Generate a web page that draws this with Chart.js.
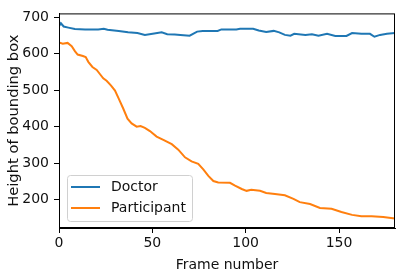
<!DOCTYPE html>
<html>
<head>
<meta charset="utf-8">
<script src="https://cdn.jsdelivr.net/npm/chart.js@4"></script>
<style>
  html, body { margin: 0; padding: 0; background: #fff; }
  #wrap { width: 404px; height: 274px; }
</style>
</head>
<body>
<div id="wrap"><canvas id="chart" width="404" height="274"></canvas></div>
<script>
const doctorFrames = [0, 1, 2.5, 5, 8.5, 14, 21, 24, 26, 32, 37, 42, 46, 51, 55, 58, 62, 65, 70, 74, 77, 85, 87, 95, 97, 104, 107, 111, 115, 118, 121, 124, 126, 132, 135.5, 139, 143.6, 148, 154, 157, 162, 166.6, 169, 172, 175.7, 180];
const doctorHeights = [676, 684, 675, 672, 668, 667, 667, 669, 666, 663, 659, 657, 652, 656, 659, 654, 653, 652, 650, 661, 663, 663, 667, 667, 669, 669, 664, 660, 663, 659, 652, 650, 655, 652, 654, 650, 655, 649, 649, 657, 655, 655, 647, 652, 655, 657];

const participantFrames = [0, 2, 4.6, 6.8, 8.6, 10, 12.8, 14.3, 15.7, 17.9, 20.2, 22, 23.7, 25.5, 27.9, 30, 32, 34.4, 36.7, 38.9, 41.6, 43.7, 46, 48.7, 52.3, 55.9, 60.4, 63.9, 67.5, 71, 74.6, 77.3, 80, 82.7, 85.3, 91.6, 94.3, 97.9, 100.5, 103, 107.7, 111, 115.7, 121, 125.6, 129, 134.5, 139.8, 146, 151.3, 157, 162, 167.5, 173.7, 180];
const participantHeights = [631, 628, 630, 621, 607, 598, 594, 591, 578, 564, 556, 544, 533, 526, 513, 499, 477, 450, 422, 409, 400, 402, 397, 388, 373, 364, 352, 337, 316, 305, 298, 283, 265, 251, 247, 246, 238, 229, 224, 227, 224, 218, 215, 212, 202, 193, 188, 177, 175, 166, 158, 154, 154, 152, 148];

const xTicks = [0, 50, 100, 150];
const yTicks = [200, 300, 400, 500, 600, 700];

const FONT = "'DejaVu Sans', sans-serif";
const TEXT = '#111';

function toPoints(xs, ys) {
  return xs.map((x, i) => ({ x: x, y: ys[i] }));
}

// matplotlib style box around the plot + legend in the lower left
const framePlugin = {
  id: 'frame',
  afterDraw(chart) {
    const { ctx, chartArea } = chart;
    ctx.save();
    ctx.strokeStyle = '#000';
    ctx.lineWidth = 1;
    ctx.strokeRect(chartArea.left + 0.5, chartArea.top + 0.5,
      chartArea.right - chartArea.left - 1, chartArea.bottom - chartArea.top - 1);

    const x0 = chartArea.left + 8, y0 = chartArea.bottom - 53;
    const w = 125, h = 46;
    ctx.fillStyle = 'rgba(255,255,255,0.8)';
    ctx.strokeStyle = '#d0d0d0';
    ctx.beginPath();
    ctx.roundRect(x0 + 0.5, y0 + 0.5, w, h, 3);
    ctx.fill();
    ctx.stroke();

    ctx.font = '14px ' + FONT;
    ctx.textBaseline = 'middle';
    chart.data.datasets.forEach((ds, i) => {
      const ly = y0 + 12 + i * 21;
      ctx.strokeStyle = ds.borderColor;
      ctx.lineWidth = 2;
      ctx.beginPath();
      ctx.moveTo(x0 + 4, ly);
      ctx.lineTo(x0 + 33, ly);
      ctx.stroke();
      ctx.fillStyle = TEXT;
      ctx.fillText(ds.label, x0 + 44, ly);
    });
    ctx.restore();
  }
};

new Chart(document.getElementById('chart'), {
  type: 'line',
  data: {
    datasets: [
      {
        label: 'Doctor',
        data: toPoints(doctorFrames, doctorHeights),
        borderColor: '#1f77b4',
        borderWidth: 2,
        pointRadius: 0,
        tension: 0
      },
      {
        label: 'Participant',
        data: toPoints(participantFrames, participantHeights),
        borderColor: '#ff7f0e',
        borderWidth: 2,
        pointRadius: 0,
        tension: 0
      }
    ]
  },
  options: {
    responsive: false,
    animation: false,
    events: [],
    layout: { padding: { top: 10, right: 9, left: 0, bottom: 0 } },
    plugins: {
      legend: { display: false },
      tooltip: { enabled: false }
    },
    scales: {
      x: {
        type: 'linear',
        min: 0,
        max: 180,
        afterBuildTicks: s => { s.ticks = xTicks.map(v => ({ value: v })); },
        afterFit: s => { s.height = 46; },
        grid: { drawOnChartArea: false, drawTicks: true, tickLength: 5, color: '#000' },
        border: { display: true, color: '#000' },
        ticks: { color: TEXT, font: { family: FONT, size: 14 }, padding: 2, maxRotation: 0 },
        title: { display: true, text: 'Frame number', color: TEXT, font: { family: FONT, size: 14 }, padding: { top: 0, bottom: 0 } }
      },
      y: {
        min: 122,
        max: 711,
        afterBuildTicks: s => { s.ticks = yTicks.map(v => ({ value: v })); },
        afterFit: s => { s.width = 59; },
        grid: { drawOnChartArea: false, drawTicks: true, tickLength: 5, color: '#000' },
        border: { display: true, color: '#000' },
        ticks: { color: TEXT, font: { family: FONT, size: 14 }, padding: 5 },
        title: { display: true, text: 'Height of bounding box', color: TEXT, font: { family: FONT, size: 14.7 }, padding: { top: 5, bottom: 4 } }
      }
    }
  },
  plugins: [framePlugin]
});
</script>
</body>
</html>
